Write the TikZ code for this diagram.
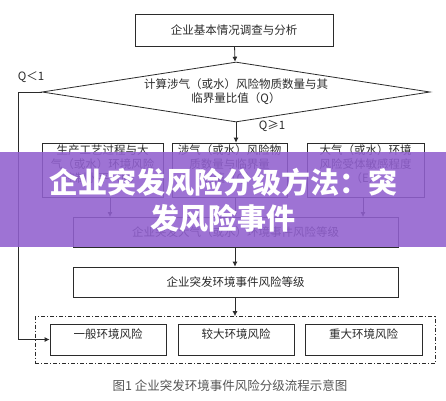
\documentclass[tikz,border=0pt]{standalone}
\usepackage{fontspec}
\setmainfont{Noto Sans CJK SC}
\usepackage{xcolor}
\usepackage{tikz}
\usetikzlibrary{arrows.meta,positioning,calc,shapes.geometric}
\definecolor{Ink}{HTML}{2B2B2B}
\definecolor{CapGrey}{HTML}{555555}
\definecolor{Banner}{HTML}{9160CF}

\begin{document}
\begin{tikzpicture}[
  x=1pt,y=-1pt,
  every node/.style={font=\fontsize{11.5pt}{14pt}\selectfont,align=center,text=Ink},
  box/.style={draw=Ink,line width=0.8pt,inner sep=1pt},
  tribox/.style={box,minimum height=54pt,text depth=13pt},
  riskbox/.style={box,minimum height=31pt,text depth=11pt},
  gate/.style={diamond,draw=Ink,line width=0.8pt,aspect=6.5,minimum width=388pt,minimum height=60pt,inner sep=0pt},
  arr/.style={-{Latex[length=5pt,width=5pt]},line width=0.8pt,Ink},
  ln/.style={line width=0.8pt,Ink}
]
\useasboundingbox[fill=white] (0,0) rectangle (446,400);
\node[box,minimum width=198pt,minimum height=32pt] (top) at (234,30) {企业基本情况调查与分析};
\node[gate] (g1) at (236,92) {计算涉气（或水）风险物质数量与其\\临界量比值（Q）};
\node[tribox,minimum width=121pt] (m) at (102.5,170) {生产工艺过程与大\\气（或水）环境风险\\控制水平（M）};
\node[tribox,minimum width=115pt] (q) at (229.5,170) {涉气（或水）风险物\\质数量与临界量\\比值（Q）};
\node[tribox,minimum width=117pt] (e) at (365.5,170) {大气（或水）环境\\风险受体敏感程度\\（E）};
\node[box,minimum width=325pt,minimum height=30pt] (g2) at (235.5,232) {企业突发大气（或水）环境事件风险等级};
\node[box,minimum width=325pt,minimum height=30pt] (g3) at (235.5,282) {企业突发环境事件风险等级};
\node[draw=Ink,line width=0.7pt,dash pattern=on 4pt off 2pt on 1pt off 2pt,minimum width=400pt,minimum height=47pt] (frame) at (235,340) {};
\node[riskbox,minimum width=116pt] (low) at (108,339.5) {一般环境风险};
\node[riskbox,minimum width=116pt] (mid) at (236,339.5) {较大环境风险};
\node[riskbox,minimum width=117pt] (high) at (363.5,339.5) {重大环境风险};
\node (qlt) at (31,77) {Q＜1};
\node (qge) at (272,126) {Q≥1};
\coordinate (bend) at (18,92);
\draw[arr] (top) -- (g1);
\draw[arr] (g1.south) -- (g1.south |- q.north);
\draw[ln] (g1.west) -- (bend) -- (bend |- low.west);
\draw[arr] (bend |- low.west) -- (low.west);
\draw[arr] (m.south -| 110,0) -- (110,217);
\draw[arr] (235,197) -- (235,217);
\draw[arr] (363,197) -- (363,217);
\draw[arr] (g2.south -| 235,0) -- (g3.north -| 235,0);
\draw[arr] (g3.south -| 235,0) -- (frame.north -| 235,0);
\node[text=CapGrey,font=\fontsize{12.5pt}{14pt}\selectfont] (cap) at (230,386) {图1\ 企业突发环境事件风险分级流程示意图};
\fill[Banner,opacity=0.88] (0,152) rectangle (446,247);
\node[text=white,font=\fontsize{29pt}{36pt}\selectfont\bfseries] (title) at (223,200) {企业突发风险分级方法：突\\发风险事件};
\end{tikzpicture}
\end{document}
